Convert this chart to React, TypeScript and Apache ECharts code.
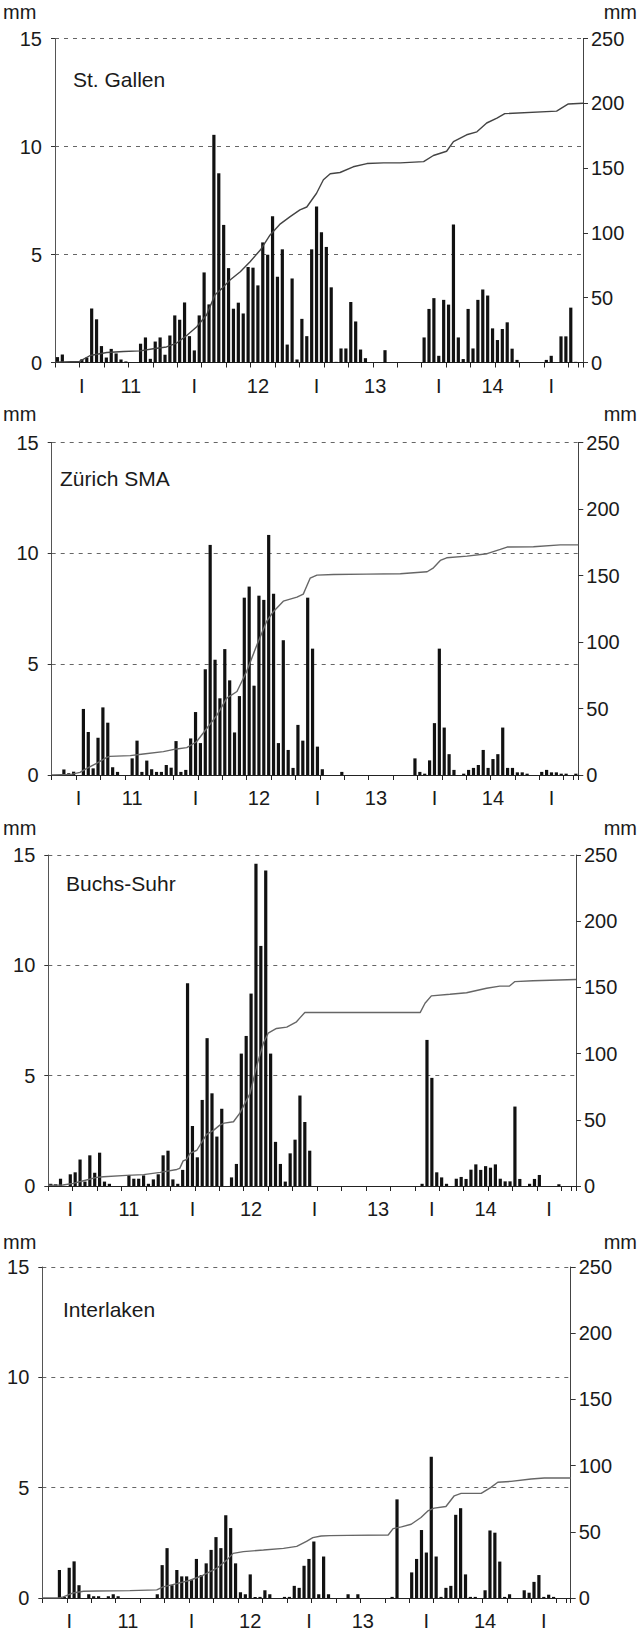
import React, { useEffect, useRef } from "react";
import * as echarts from "echarts";

// ---------- DATA ----------
const dayLabels = ["11", "12", "13", "14"];
const stationNames = ["St. Gallen", "Zürich SMA", "Buchs-Suhr", "Interlaken"];
const leftTicks = [0, 5, 10, 15];
const rightTicks = [0, 50, 100, 150, 200, 250];

// hourly precipitation (mm), 108 hours
const stGallenHourly = [
  0.25, 0.37, 0, 0, 0, 0.15, 0.23, 2.5, 2.0, 0.76,
  0.23, 0.63, 0.42, 0.14, 0.05, 0, 0, 0.87, 1.16, 0.17,
  0.97, 1.16, 0.36, 1.25, 2.18, 1.98, 2.78, 1.22, 0.56, 2.18,
  4.17, 2.69, 10.54, 8.76, 6.37, 4.37, 2.49, 2.77, 2.27, 4.42,
  4.39, 3.57, 5.56, 4.99, 6.77, 3.97, 5.24, 0.83, 3.89, 0.14,
  2.02, 1.22, 5.24, 7.22, 6.03, 5.35, 3.48, 0.03, 0.65, 0.65,
  2.8, 1.9, 0.6, 0.2, 0, 0, 0, 0.57, 0, 0,
  0, 0, 0, 0, 0, 1.16, 2.48, 2.98, 0.31, 2.9,
  2.68, 6.39, 1.16, 0.16, 2.48, 0.65, 2.9, 3.38, 3.1, 1.58,
  1.04, 1.55, 1.86, 0.64, 0.12, 0, 0, 0, 0, 0,
  0.12, 0.31, 0, 1.21, 1.21, 2.54, 0.03, 0,
];
const zurichHourly = [
  0, 0, 0.25, 0.08, 0.15, 0, 2.98, 1.94, 0.3, 1.68,
  3.05, 2.36, 0.35, 0.14, 0, 0, 0.75, 1.55, 0.14, 0.65,
  0.26, 0.14, 0.14, 0.45, 0.33, 1.53, 0.14, 0.23, 1.65, 2.84,
  1.44, 4.77, 10.38, 5.2, 3.46, 5.68, 4.27, 1.92, 3.56, 8.0,
  8.5, 4.03, 8.09, 7.9, 10.83, 8.18, 1.44, 6.08, 1.13, 0.32,
  2.26, 1.55, 8.0, 5.7, 1.28, 0.26, 0, 0, 0, 0.14,
  0, 0, 0, 0, 0, 0, 0, 0, 0, 0,
  0, 0, 0, 0, 0.75, 0.14, 0.06, 0.66, 2.34, 5.7,
  2.14, 0.94, 0.23, 0, 0.06, 0.23, 0.32, 0.45, 1.13, 0.32,
  0.72, 0.94, 2.14, 0.32, 0.32, 0.12, 0.12, 0.06, 0, 0,
  0.14, 0.23, 0.12, 0.12, 0.06, 0.06, 0, 0.06,
];
const buchsHourly = [
  0.1, 0.08, 0.33, 0, 0.53, 0.62, 1.2, 0.2, 1.39, 0.6,
  1.51, 0.2, 0.1, 0, 0, 0, 0.5, 0.33, 0.33, 0.48,
  0.1, 0.3, 0.53, 1.39, 1.6, 0.3, 0.1, 0.73, 9.19, 2.72,
  1.3, 3.9, 6.7, 4.2, 2.24, 3.5, 0, 0.39, 1.0, 6.0,
  6.8, 8.72, 14.6, 10.88, 14.3, 6.0, 2.0, 1.0, 0.2, 1.48,
  2.1, 4.1, 2.9, 1.6, 0, 0, 0, 0, 0, 0,
  0, 0, 0, 0, 0, 0, 0, 0, 0, 0,
  0, 0, 0, 0, 0, 0, 0.1, 6.62, 4.9, 0.62,
  0.39, 0.1, 0, 0.33, 0.41, 0.32, 0.74, 0.98, 0.73, 0.9,
  0.83, 0.98, 0.33, 0.21, 0.21, 3.6, 0.32, 0, 0.1, 0.32,
  0.5, 0, 0, 0, 0.08, 0, 0, 0,
];
const interlakenHourly = [
  0, 0, 0, 1.27, 0.05, 1.37, 1.66, 0.58, 0, 0.17,
  0.08, 0.08, 0, 0.08, 0.17, 0.08, 0, 0, 0, 0,
  0, 0, 0, 0.17, 1.49, 2.26, 0.58, 1.27, 0.98, 0.98,
  0.81, 1.77, 1.04, 1.57, 2.18, 2.76, 2.26, 3.75, 3.17, 1.57,
  0.26, 0.17, 1.07, 0.05, 0.05, 0.35, 0.17, 0, 0, 0.05,
  0.05, 0.55, 0.46, 1.46, 1.77, 2.56, 0.17, 1.88, 0.17, 0,
  0, 0, 0.17, 0, 0.17, 0, 0, 0, 0, 0,
  0, 0.05, 4.47, 0, 0, 1.16, 1.77, 3.08, 2.06, 6.4,
  1.88, 0.05, 0.46, 0.55, 3.77, 4.07, 1.07, 0.05, 0.05, 0,
  0.35, 3.06, 2.96, 1.65, 0.05, 0.17, 0, 0, 0.35, 0.24,
  0.73, 1.04, 0.05, 0.15, 0.05, 0, 0, 0,
];

// cumulative precipitation (mm) as [hour, value]
const stGallenCum = [
  [0, 0.3], [5, 0.8], [7.2, 5.4], [10.6, 7.7], [14, 8.5], [17.4, 9], [20.1, 10.6],
  [22.8, 12], [24.9, 15], [27, 21], [29, 27.6], [31, 36.6], [32.7, 52], [34.1, 57],
  [35.8, 63.6], [37.9, 70], [39.9, 77.8], [42, 86.8], [44, 98.4], [46.1, 107],
  [48.1, 112.6], [50.1, 117.8], [51.5, 120], [53.5, 130.6], [54.9, 141], [56.3, 145.6],
  [58.3, 146.6], [61, 151], [63.8, 153.5], [67.2, 154], [70.6, 154], [75.4, 155],
  [77.4, 159.7], [80.1, 163], [81.5, 170.5], [84.2, 175.7], [86.3, 178], [88.3, 184.8],
  [90.4, 188.6], [92, 192], [102.6, 194], [105, 199.5], [108, 200],
];
const zurichCum = [
  [0, 0], [4, 0.5], [5.8, 2], [7.2, 5], [9.2, 8.8], [11.2, 13], [11.9, 14], [16.1, 14.6],
  [18.8, 15.8], [22.9, 17.6], [25.6, 19.6], [27.7, 20.6], [29.7, 25], [31.8, 35],
  [33.9, 45], [35.9, 57.8], [38, 62.8], [40, 78], [42.1, 98], [44.1, 115.6], [45.5, 123],
  [47.5, 130.7], [50.3, 133.7], [51.6, 136], [52, 139.5], [53, 148], [54.4, 150.3],
  [57.8, 150.8], [64.6, 151], [71.5, 151.3], [77, 152.8], [78.3, 155.8], [79.7, 161.3],
  [81, 163.3], [85.2, 164.6], [89.3, 166.4], [92, 169.6], [93.4, 171.4], [98.8, 171.6],
  [104.3, 173], [108, 173],
];
const buchsCum = [
  [0, 0.5], [3, 0.8], [5.1, 2], [7.2, 4], [9.9, 6.5], [11.3, 7], [16, 8], [19.5, 8.6],
  [22.9, 10.3], [26.3, 12.5], [26.9, 13.3], [27.6, 19], [28.3, 20], [29, 24.7],
  [30.4, 27], [32.4, 39], [33.8, 42], [35.1, 46], [36, 47.5], [37.9, 48.5], [39.2, 55],
  [39.9, 60], [41.3, 70], [42.6, 90], [44, 107.8], [45, 115.4], [46.7, 119], [48.8, 120],
  [50.8, 124], [51.5, 127], [52.5, 131], [57.6, 131], [76.1, 131], [77.1, 138],
  [78.4, 143.6], [82.2, 144.8], [85.6, 146], [89.7, 149.4], [92.4, 151], [94.4, 151],
  [95.5, 154.4], [99.2, 155], [108, 156],
];
const interlakenCum = [
  [0, 0], [3.5, 0], [4.3, 0.8], [6.3, 3.8], [8.4, 5.1], [11.1, 5.3], [17.9, 5.6],
  [23.4, 6.1], [24.7, 8.4], [27.5, 10.9], [30.2, 13.4], [32.9, 17.2], [35.6, 22.3],
  [37.7, 28.6], [39, 33.7], [41.1, 35], [45.2, 36.2], [49.3, 37.5], [52, 39], [54, 42.8],
  [55.3, 45.6], [57, 46.8], [58.8, 47.1], [62.5, 47.3], [70.7, 47.6], [71.7, 52.4],
  [73.4, 53.7], [75.4, 55.7], [77.4, 60.8], [78.8, 65.8], [80.1, 67.9], [82.5, 69.1],
  [84.2, 77.2], [85.6, 79], [89.7, 79], [91.7, 83.6], [93.1, 87.4], [95.8, 88.1],
  [99.9, 89.9], [102.6, 90.6], [108, 90.6],
];

// hour index of midnight marks "I" and of the day labels, per panel
const midnightMarks = [
  [5, 28, 53, 78, 101],
  [5, 29, 54, 78, 102],
  [4, 29, 54, 78, 102],
  [5, 30, 54, 78, 102],
];
const dayLabelHours = [
  [15, 41, 65, 89],
  [16, 42, 66, 90],
  [16, 41, 67, 89],
  [17, 42, 65, 90],
];

const hourlySeries = [stGallenHourly, zurichHourly, buchsHourly, interlakenHourly];
const cumSeries = [stGallenCum, zurichCum, buchsCum, interlakenCum];

// ---------- LAYOUT ----------
const FONT = "'Liberation Sans', Arial, Helvetica, sans-serif";
const panels = [
  { left: 55, right: 583, top: 38.5, bottom: 362.5, titleX: 73, titleY: 81, mmY: 13 },
  { left: 51.7, right: 578.3, top: 442.5, bottom: 775, titleX: 60, titleY: 480, mmY: 415 },
  { left: 48.3, right: 576, top: 855, bottom: 1186, titleX: 66, titleY: 885, mmY: 829 },
  { left: 42.3, right: 570.7, top: 1267, bottom: 1600, titleX: 63, titleY: 1311, mmY: 1243 },
];

export default function App() {
  const ref = useRef<HTMLDivElement>(null);

  useEffect(() => {
    document.body.style.margin = "0";
    if (!ref.current) return;
    const chart = echarts.init(ref.current, null, { renderer: "svg" });
    const N = hourlySeries[0].length;
    const cats = Array.from({ length: N }, (_, i) => String(i));

    const grid: any[] = [];
    const xAxis: any[] = [];
    const yAxis: any[] = [];
    const series: any[] = [];
    const graphic: any[] = [];

    panels.forEach((p, k) => {
      grid.push({
        left: p.left,
        top: p.top,
        width: p.right - p.left,
        height: p.bottom - p.top,
        containLabel: false,
      });
      const labelMap: Record<number, string> = {};
      midnightMarks[k].forEach((h) => (labelMap[h] = "I"));
      dayLabelHours[k].forEach((h, j) => (labelMap[h] = dayLabels[j]));
      xAxis.push({
        type: "category",
        gridIndex: k,
        data: cats,
        boundaryGap: true,
        axisLine: { show: true, lineStyle: { color: "#222", width: 1 } },
        axisTick: { show: true, interval: 4, length: 5, lineStyle: { color: "#222" } },
        axisLabel: {
          interval: 0,
          margin: 13,
          fontSize: 20,
          fontFamily: FONT,
          color: "#1a1a1a",
          formatter: (_v: string, idx: number) => labelMap[idx] || "",
        },
        splitLine: { show: false },
      });
      xAxis.push({
        type: "value",
        gridIndex: k,
        min: 0,
        max: N,
        show: false,
      });
      yAxis.push({
        type: "value",
        gridIndex: k,
        position: "left",
        min: leftTicks[0],
        max: leftTicks[leftTicks.length - 1],
        interval: 5,
        axisLine: { show: true, lineStyle: { color: "#555", width: 1 } },
        axisTick: { show: true, length: 4, lineStyle: { color: "#333" } },
        axisLabel: { fontSize: 20, fontFamily: FONT, color: "#1a1a1a", margin: 13 },
        splitLine: {
          show: true,
          lineStyle: { color: "#666", width: 1, type: [4, 5] },
        },
      });
      yAxis.push({
        type: "value",
        gridIndex: k,
        position: "right",
        min: rightTicks[0],
        max: rightTicks[rightTicks.length - 1],
        interval: 50,
        axisLine: { show: true, lineStyle: { color: "#444", width: 1 } },
        axisTick: { show: true, length: 5, lineStyle: { color: "#333" } },
        axisLabel: { fontSize: 20, fontFamily: FONT, color: "#1a1a1a", margin: 8 },
        splitLine: { show: false },
      });
      series.push({
        type: "bar",
        xAxisIndex: 2 * k,
        yAxisIndex: 2 * k,
        data: hourlySeries[k],
        barWidth: 3.2,
        itemStyle: { color: "#111" },
        silent: true,
      });
      series.push({
        type: "line",
        xAxisIndex: 2 * k + 1,
        yAxisIndex: 2 * k + 1,
        data: cumSeries[k],
        showSymbol: false,
        symbol: "none",
        lineStyle: { color: k === 0 ? "#444" : "#666", width: 1.4 },
        z: 3,
        silent: true,
      });
      graphic.push({
        type: "text",
        left: p.titleX,
        top: p.titleY - 12,
        style: { text: stationNames[k], fontSize: 21, fontFamily: FONT, fill: "#1a1a1a" },
      });
      graphic.push({
        type: "text",
        left: 3,
        top: p.mmY - 11,
        style: { text: "mm", fontSize: 20, fontFamily: FONT, fill: "#1a1a1a" },
      });
      graphic.push({
        type: "text",
        right: 3,
        top: p.mmY - 11,
        style: { text: "mm", fontSize: 20, fontFamily: FONT, fill: "#1a1a1a" },
      });
    });

    chart.setOption({
      animation: false,
      backgroundColor: "#ffffff",
      grid,
      xAxis,
      yAxis,
      series,
      graphic,
    });
    return () => chart.dispose();
  }, []);

  return <div ref={ref} style={{ width: 640, height: 1631 }} />;
}
